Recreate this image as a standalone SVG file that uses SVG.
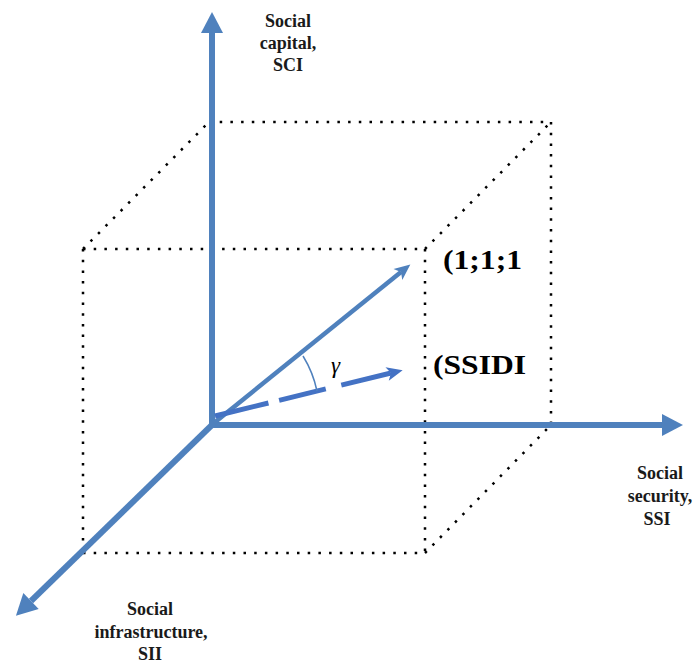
<svg xmlns="http://www.w3.org/2000/svg" width="694" height="665" viewBox="0 0 694 665">
  <style>
    .dot { fill: none; stroke: #000; stroke-width: 2.5; stroke-dasharray: 2.5 8.2; }
    .axis { fill: none; stroke: #4F81BD; stroke-width: 6; }
    .lbl { font-family: "Liberation Serif", "Times New Roman", serif; font-weight: bold; font-size: 18px; fill: #1a1a1a; text-anchor: middle; }
    .pt { font-family: "Liberation Serif", "Times New Roman", serif; font-weight: bold; font-size: 28px; fill: #000; }
  </style>
  <defs>
    <marker id="axisHead" markerUnits="userSpaceOnUse" markerWidth="21" markerHeight="22" refX="0" refY="11" orient="auto" overflow="visible">
      <path d="M0,0 L21,11 L0,22 z" fill="#4F81BD"/>
    </marker>
    <marker id="vecHead" markerUnits="userSpaceOnUse" markerWidth="16" markerHeight="14" refX="4" refY="7" orient="auto" overflow="visible">
      <path d="M0,0 L16,7 L0,14 L4,7 z" fill="#4F81BD"/>
    </marker>
    <marker id="vecHead2" markerUnits="userSpaceOnUse" markerWidth="16" markerHeight="14" refX="4" refY="7" orient="auto" overflow="visible">
      <path d="M0,0 L16,7 L0,14 L4,7 z" fill="#4472C4"/>
    </marker>
  </defs>

  <g id="cube">
    <line class="dot" x1="83" y1="249" x2="425" y2="249"/>
    <line class="dot" x1="83" y1="249" x2="83" y2="553"/>
    <line class="dot" x1="83" y1="553" x2="425" y2="553"/>
    <line class="dot" x1="425" y1="249" x2="425" y2="553"/>
    <line class="dot" x1="209" y1="122" x2="551" y2="122"/>
    <line class="dot" x1="551" y1="122" x2="551" y2="425"/>
    <line class="dot" x1="83" y1="249" x2="209" y2="122"/>
    <line class="dot" x1="425" y1="249" x2="551" y2="122"/>
    <line class="dot" x1="425" y1="553" x2="551" y2="425"/>
  </g>

  <g id="connectors">
    <line id="axis-sci" class="axis" x1="212" y1="428" x2="212" y2="33" marker-end="url(#axisHead)"/>
    <line id="axis-ssi" class="axis" x1="209" y1="425" x2="662" y2="425" marker-end="url(#axisHead)"/>
    <line id="axis-sii" class="axis" x1="214" y1="423" x2="31" y2="601" marker-end="url(#axisHead)"/>
    <line id="vec-111" x1="214" y1="423" x2="401" y2="272" stroke="#4F81BD" stroke-width="4.5" marker-end="url(#vecHead)"/>
    <line id="vec-ssidi" x1="215" y1="416" x2="391" y2="373" stroke="#4472C4" stroke-width="5" stroke-dasharray="55 11 48 16" marker-end="url(#vecHead2)"/>
    <path id="angle-arc" d="M303,356 A110,110 0 0 1 317,391" fill="none" stroke="#4F81BD" stroke-width="1.5"/>
  </g>

  <g id="label-sci">
    <text class="lbl" x="288" y="27">Social</text>
    <text class="lbl" x="288" y="49">capital,</text>
    <text class="lbl" x="288" y="71">SCI</text>
  </g>
  <g id="label-ssi">
    <text class="lbl" x="660" y="479">Social</text>
    <text class="lbl" x="660" y="502">security,</text>
    <text class="lbl" x="657" y="525">SSI</text>
  </g>
  <g id="label-sii">
    <text class="lbl" x="150" y="615">Social</text>
    <text class="lbl" x="151" y="638">infrastructure,</text>
    <text class="lbl" x="150" y="660">SII</text>
  </g>
  <g id="point-111">
    <text class="pt" x="443" y="269" textLength="79" lengthAdjust="spacingAndGlyphs" font-size="25">(1;1;1</text>
  </g>
  <g id="point-ssidi">
    <text class="pt" x="433" y="374" textLength="93" lengthAdjust="spacingAndGlyphs">(SSIDI</text>
  </g>
  <g id="gamma">
    <text x="331" y="373" font-family="'Liberation Serif', 'Times New Roman', serif" font-style="italic" font-size="23" fill="#000">γ</text>
  </g>
</svg>
